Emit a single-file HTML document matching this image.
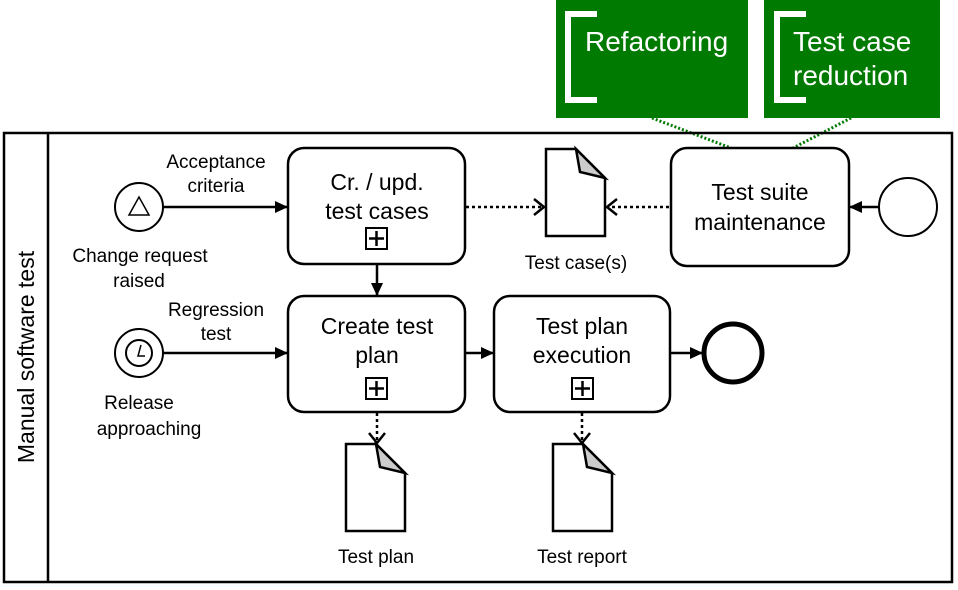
<!DOCTYPE html>
<html><head><style>
body{margin:0;background:#fff;}
svg text{font-family:"Liberation Sans",Arial,sans-serif;fill:#000;}
</style></head><body>
<svg width="958" height="585" viewBox="0 0 958 585" xmlns="http://www.w3.org/2000/svg">
<defs>
<marker id="a" markerWidth="14" markerHeight="14" refX="12" refY="7" orient="auto" markerUnits="userSpaceOnUse"><path d="M0,1 L13,7 L0,13 Z" fill="#000"/></marker>
<marker id="o" markerWidth="14" markerHeight="18" refX="11" refY="9" orient="auto" markerUnits="userSpaceOnUse"><path d="M1,1 L11,9 L1,17" fill="none" stroke="#000" stroke-width="2.5"/></marker>
</defs>
<rect x="556" y="0" width="192" height="118" fill="#007a00"/>
<path d="M597,14 H568 V100 H597" fill="none" stroke="#fff" stroke-width="6"/>
<text x="585" y="51" font-size="28" style="fill:#fff">Refactoring</text>
<rect x="764" y="0" width="176" height="118" fill="#007a00"/>
<path d="M806,14 H777 V100 H806" fill="none" stroke="#fff" stroke-width="6"/>
<text x="793" y="51" font-size="28" style="fill:#fff">Test case</text>
<text x="793" y="85" font-size="28" style="fill:#fff">reduction</text>
<line x1="652" y1="118" x2="731" y2="148" stroke="#007a00" stroke-width="3" stroke-dasharray="2,2"/>
<line x1="851" y1="118" x2="793" y2="148" stroke="#007a00" stroke-width="3" stroke-dasharray="2,2"/>
<rect x="4" y="133" width="948" height="449" fill="none" stroke="#000" stroke-width="2.5"/>
<line x1="48" y1="133" x2="48" y2="582" stroke="#000" stroke-width="2.5"/>
<text transform="translate(34,357) rotate(-90)" font-size="23" text-anchor="middle">Manual software test</text>
<circle cx="139" cy="207" r="24" fill="#fff" stroke="#000" stroke-width="2"/>
<path d="M139,197 L129,215 L149,215 Z" fill="none" stroke="#000" stroke-width="1.5"/>
<circle cx="139" cy="353" r="24" fill="#fff" stroke="#000" stroke-width="2"/>
<circle cx="139" cy="353" r="13" fill="none" stroke="#000" stroke-width="2"/>
<path d="M141,345 L138,356 L145,356" fill="none" stroke="#000" stroke-width="1.5"/>
<text x="140" y="262" font-size="19" text-anchor="middle">Change request</text>
<text x="139" y="287" font-size="19" text-anchor="middle">raised</text>
<text x="139" y="409" font-size="19" text-anchor="middle">Release</text>
<text x="149" y="435" font-size="19" text-anchor="middle">approaching</text>
<text x="216" y="168" font-size="19" text-anchor="middle">Acceptance</text>
<text x="216" y="192" font-size="19" text-anchor="middle">criteria</text>
<text x="216" y="316" font-size="19" text-anchor="middle">Regression</text>
<text x="216" y="340" font-size="19" text-anchor="middle">test</text>
<line x1="163" y1="207" x2="287" y2="207" stroke="#000" stroke-width="2.5" marker-end="url(#a)"/>
<line x1="163" y1="353" x2="287" y2="353" stroke="#000" stroke-width="2.5" marker-end="url(#a)"/>
<rect x="288" y="148" width="177" height="116" rx="16" fill="#fff" stroke="#000" stroke-width="2.5"/>
<text x="377" y="190" font-size="23" text-anchor="middle">Cr. / upd.</text>
<text x="377" y="219" font-size="23" text-anchor="middle">test cases</text>
<rect x="366" y="228" width="21" height="21" fill="none" stroke="#000" stroke-width="2"/>
<path d="M376.5,231 V246 M369,238.5 H384" stroke="#000" stroke-width="2.5"/>
<rect x="288" y="296" width="177" height="116" rx="16" fill="#fff" stroke="#000" stroke-width="2.5"/>
<text x="377" y="334" font-size="23" text-anchor="middle">Create test</text>
<text x="377" y="363" font-size="23" text-anchor="middle">plan</text>
<rect x="366" y="378" width="21" height="21" fill="none" stroke="#000" stroke-width="2"/>
<path d="M376.5,381 V396 M369,388.5 H384" stroke="#000" stroke-width="2.5"/>
<rect x="494" y="296" width="176" height="116" rx="16" fill="#fff" stroke="#000" stroke-width="2.5"/>
<text x="582" y="334" font-size="23" text-anchor="middle">Test plan</text>
<text x="582" y="363" font-size="23" text-anchor="middle">execution</text>
<rect x="572" y="378" width="21" height="21" fill="none" stroke="#000" stroke-width="2"/>
<path d="M582.5,381 V396 M575,388.5 H590" stroke="#000" stroke-width="2.5"/>
<rect x="671" y="148" width="178" height="118" rx="16" fill="#fff" stroke="#000" stroke-width="2.5"/>
<text x="760" y="200" font-size="23" text-anchor="middle">Test suite</text>
<text x="760" y="230" font-size="23" text-anchor="middle">maintenance</text>
<line x1="377" y1="264" x2="377" y2="295" stroke="#000" stroke-width="2.5" marker-end="url(#a)"/>
<line x1="465" y1="353" x2="493" y2="353" stroke="#000" stroke-width="2.5" marker-end="url(#a)"/>
<line x1="670" y1="353" x2="702" y2="353" stroke="#000" stroke-width="2.5" marker-end="url(#a)"/>
<circle cx="733" cy="353" r="29" fill="#fff" stroke="#000" stroke-width="5"/>
<circle cx="908" cy="207" r="29" fill="#fff" stroke="#000" stroke-width="2"/>
<line x1="879" y1="207" x2="850" y2="207" stroke="#000" stroke-width="2.5" marker-end="url(#a)"/>
<line x1="466" y1="207" x2="544" y2="207" stroke="#000" stroke-width="2.5" stroke-dasharray="3,3" marker-end="url(#o)"/>
<line x1="669" y1="207" x2="607" y2="207" stroke="#000" stroke-width="2.5" stroke-dasharray="3,3" marker-end="url(#o)"/>
<line x1="377" y1="413" x2="377" y2="443" stroke="#000" stroke-width="2.5" stroke-dasharray="3,3" marker-end="url(#o)"/>
<line x1="582" y1="413" x2="582" y2="443" stroke="#000" stroke-width="2.5" stroke-dasharray="3,3" marker-end="url(#o)"/>
<g stroke="#000" stroke-width="2.5" stroke-linejoin="miter">
<path d="M546,149 H576 L605,178 V236 H546 Z" fill="#fff"/>
<path d="M576,149 L580,172 L605,178 Z" fill="#ccc"/>
<path d="M346,444 H376 L405,473 V531 H346 Z" fill="#fff"/>
<path d="M376,444 L380,467 L405,473 Z" fill="#ccc"/>
<path d="M553,444 H583 L612,473 V531 H553 Z" fill="#fff"/>
<path d="M583,444 L587,467 L612,473 Z" fill="#ccc"/>
</g>
<text x="576" y="269" font-size="19" text-anchor="middle">Test case(s)</text>
<text x="376" y="563" font-size="19" text-anchor="middle">Test plan</text>
<text x="582" y="563" font-size="19" text-anchor="middle">Test report</text>
</svg>
</body></html>
